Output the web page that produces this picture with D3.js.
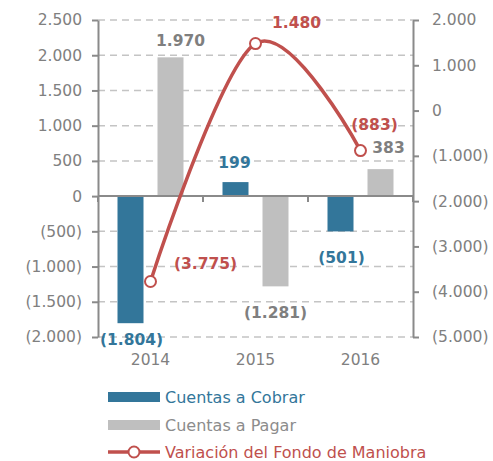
<!DOCTYPE html>
<html>
<head>
<meta charset="utf-8">
<script src="https://cdn.jsdelivr.net/npm/d3@7"></script>
<style>
    body { margin: 0; background: #fff; }
    svg text { font-family: 'DejaVu Sans', sans-serif; }
</style>
</head>
<body>
<div id="chart"></div>
<script>
const years = ['2014', '2015', '2016'];
const cuentasCobrar = [-1804, 199, -501];
const cuentasPagar = [1970, -1281, 383];
const fondoManiobra = [-3775, 1480, -883];
const leftTicks = [2500, 2000, 1500, 1000, 500, 0, -500, -1000, -1500, -2000];
const rightTicks = [2000, 1000, 0, -1000, -2000, -3000, -4000, -5000];
const seriesNames = ['Cuentas a Cobrar', 'Cuentas a Pagar', 'Variación del Fondo de Maniobra'];

const width = 493;
const height = 461;
const blue = '#33769a';
const grey = '#bfbfbf';
const red = '#c0504d';
const textGrey = '#808080';

const locale = d3.formatLocale({ decimal: ',', thousands: '.', grouping: [3], currency: ['', ''] });
const baseFormat = locale.format(',.0f');
const fmt = v => v < 0 ? '(' + baseFormat(-v) + ')' : baseFormat(v);

const svg = d3.select('#chart')
    .append('svg')
    .attr('width', width)
    .attr('height', height);

const plotLeft = 98;
const plotRight = 413;
const plotTop = 20;
const plotBottom = 337;

const yLeft = d3.scaleLinear().domain([-2000, 2500]).range([plotBottom, plotTop]);
const yRight = d3.scaleLinear().domain([-5000, 2000]).range([plotBottom, plotTop]);
const xScale = d3.scaleBand().domain(years).range([plotLeft, plotRight]);
const xInner = d3.scaleBand()
    .domain(['cobrar', 'pagar'])
    .range([0, xScale.bandwidth()])
    .paddingInner(0.35)
    .paddingOuter(0.4875);

// dashed gridlines
svg.append('g')
    .selectAll('line')
    .data(leftTicks.filter(d => d !== 0))
    .enter()
    .append('line')
    .attr('x1', plotLeft)
    .attr('x2', plotRight)
    .attr('y1', d => yLeft(d))
    .attr('y2', d => yLeft(d))
    .attr('stroke', '#c4c4c4')
    .attr('stroke-width', 1.5)
    .attr('stroke-dasharray', '7,5');

const rows = years.map((y, i) => ({ year: y, cobrar: cuentasCobrar[i], pagar: cuentasPagar[i], fondo: fondoManiobra[i] }));

// bars
const groups = svg.append('g')
    .selectAll('.group')
    .data(rows)
    .enter()
    .append('g')
    .attr('class', 'group')
    .attr('transform', d => `translate(${xScale(d.year)},0)`);

groups.append('rect')
    .attr('x', xInner('cobrar'))
    .attr('width', xInner.bandwidth())
    .attr('y', d => yLeft(Math.max(0, d.cobrar)))
    .attr('height', d => Math.abs(yLeft(d.cobrar) - yLeft(0)))
    .attr('fill', blue);

groups.append('rect')
    .attr('x', xInner('pagar'))
    .attr('width', xInner.bandwidth())
    .attr('y', d => yLeft(Math.max(0, d.pagar)))
    .attr('height', d => Math.abs(yLeft(d.pagar) - yLeft(0)))
    .attr('fill', grey);

// zero line with category ticks
const axisColor = '#8a8a8a';
svg.append('line')
    .attr('x1', plotLeft)
    .attr('x2', plotRight)
    .attr('y1', yLeft(0))
    .attr('y2', yLeft(0))
    .attr('stroke', axisColor)
    .attr('stroke-width', 2);

const boundaries = years.map(y => xScale(y)).concat([plotRight]);
svg.append('g')
    .selectAll('line')
    .data(boundaries)
    .enter()
    .append('line')
    .attr('x1', d => d)
    .attr('x2', d => d)
    .attr('y1', yLeft(0))
    .attr('y2', yLeft(0) + 6)
    .attr('stroke', axisColor)
    .attr('stroke-width', 2);

// axes
const leftAxis = svg.append('g')
    .attr('transform', `translate(${plotLeft},0)`)
    .call(d3.axisLeft(yLeft).tickValues(leftTicks).tickFormat(fmt).tickSize(6).tickSizeOuter(0).tickPadding(10));

const rightAxis = svg.append('g')
    .attr('transform', `translate(${plotRight},0)`)
    .call(d3.axisRight(yRight).tickValues(rightTicks).tickFormat(fmt).tickSize(6).tickSizeOuter(0).tickPadding(13));

const bottomAxis = svg.append('g')
    .attr('transform', `translate(0,${plotBottom})`)
    .call(d3.axisBottom(xScale).tickSize(0).tickPadding(17));
bottomAxis.select('.domain').remove();

[leftAxis, rightAxis].forEach(ax => {
    ax.selectAll('.domain, .tick line')
        .attr('stroke', axisColor)
        .attr('stroke-width', 2);
});
[leftAxis, rightAxis, bottomAxis].forEach(ax => {
    ax.selectAll('text')
        .attr('fill', textGrey)
        .attr('font-size', '15.5px')
        .style('font-family', "'DejaVu Sans', sans-serif");
});

// line series
const cx = d => xScale(d.year) + xScale.bandwidth() / 2;
const line = d3.line()
    .x(cx)
    .y(d => yRight(d.fondo))
    .curve(d3.curveCardinal.tension(0));

svg.append('path')
    .datum(rows)
    .attr('d', line)
    .attr('fill', 'none')
    .attr('stroke', red)
    .attr('stroke-width', 3.5);

svg.append('g')
    .selectAll('circle')
    .data(rows)
    .enter()
    .append('circle')
    .attr('cx', cx)
    .attr('cy', d => yRight(d.fondo))
    .attr('r', 5.5)
    .attr('fill', '#fff')
    .attr('stroke', red)
    .attr('stroke-width', 2);

// data labels
const cobrarOffsets = [[1, 22], [-1, -14], [1, 32]];
const pagarOffsets = [[10, -11], [0, 32], [8, -16]];
const fondoOffsets = [[55, -13], [41, -16], [14, -21]];

const labelLayer = svg.append('g')
    .attr('font-size', '15.5px')
    .attr('font-weight', 'bold')
    .attr('text-anchor', 'middle');

labelLayer.selectAll('.lbl-cobrar')
    .data(rows)
    .enter()
    .append('text')
    .attr('x', (d, i) => xScale(d.year) + xInner('cobrar') + xInner.bandwidth() / 2 + cobrarOffsets[i][0])
    .attr('y', (d, i) => yLeft(d.cobrar) + cobrarOffsets[i][1])
    .attr('fill', blue)
    .text(d => fmt(d.cobrar));

labelLayer.selectAll('.lbl-pagar')
    .data(rows)
    .enter()
    .append('text')
    .attr('x', (d, i) => xScale(d.year) + xInner('pagar') + xInner.bandwidth() / 2 + pagarOffsets[i][0])
    .attr('y', (d, i) => yLeft(d.pagar) + pagarOffsets[i][1])
    .attr('fill', '#7f7f7f')
    .text(d => fmt(d.pagar));

labelLayer.selectAll('.lbl-fondo')
    .data(rows)
    .enter()
    .append('text')
    .attr('x', (d, i) => cx(d) + fondoOffsets[i][0])
    .attr('y', (d, i) => yRight(d.fondo) + fondoOffsets[i][1])
    .attr('fill', red)
    .text(d => fmt(d.fondo));

// legend
const legend = svg.append('g')
    .attr('transform', 'translate(108,397)');

const legendColors = [blue, '#8c8c8c', red];

seriesNames.forEach((name, i) => {
    const row = legend.append('g')
        .attr('transform', `translate(0,${[0, 28, 55][i]})`);

    if (i < 2) {
        row.append('rect')
            .attr('x', 0)
            .attr('y', -5)
            .attr('width', 52)
            .attr('height', 10)
            .attr('fill', i === 0 ? blue : grey);
    } else {
        row.append('line')
            .attr('x1', 0)
            .attr('x2', 52)
            .attr('stroke', red)
            .attr('stroke-width', 3.5);
        row.append('circle')
            .attr('cx', 26)
            .attr('r', 5.5)
            .attr('fill', '#fff')
            .attr('stroke', red)
            .attr('stroke-width', 2);
    }

    row.append('text')
        .attr('x', 57)
        .attr('y', 0)
        .attr('dy', '0.35em')
        .attr('font-size', '16px')
        .attr('fill', legendColors[i])
        .text(name);
});
</script>
</body>
</html>
